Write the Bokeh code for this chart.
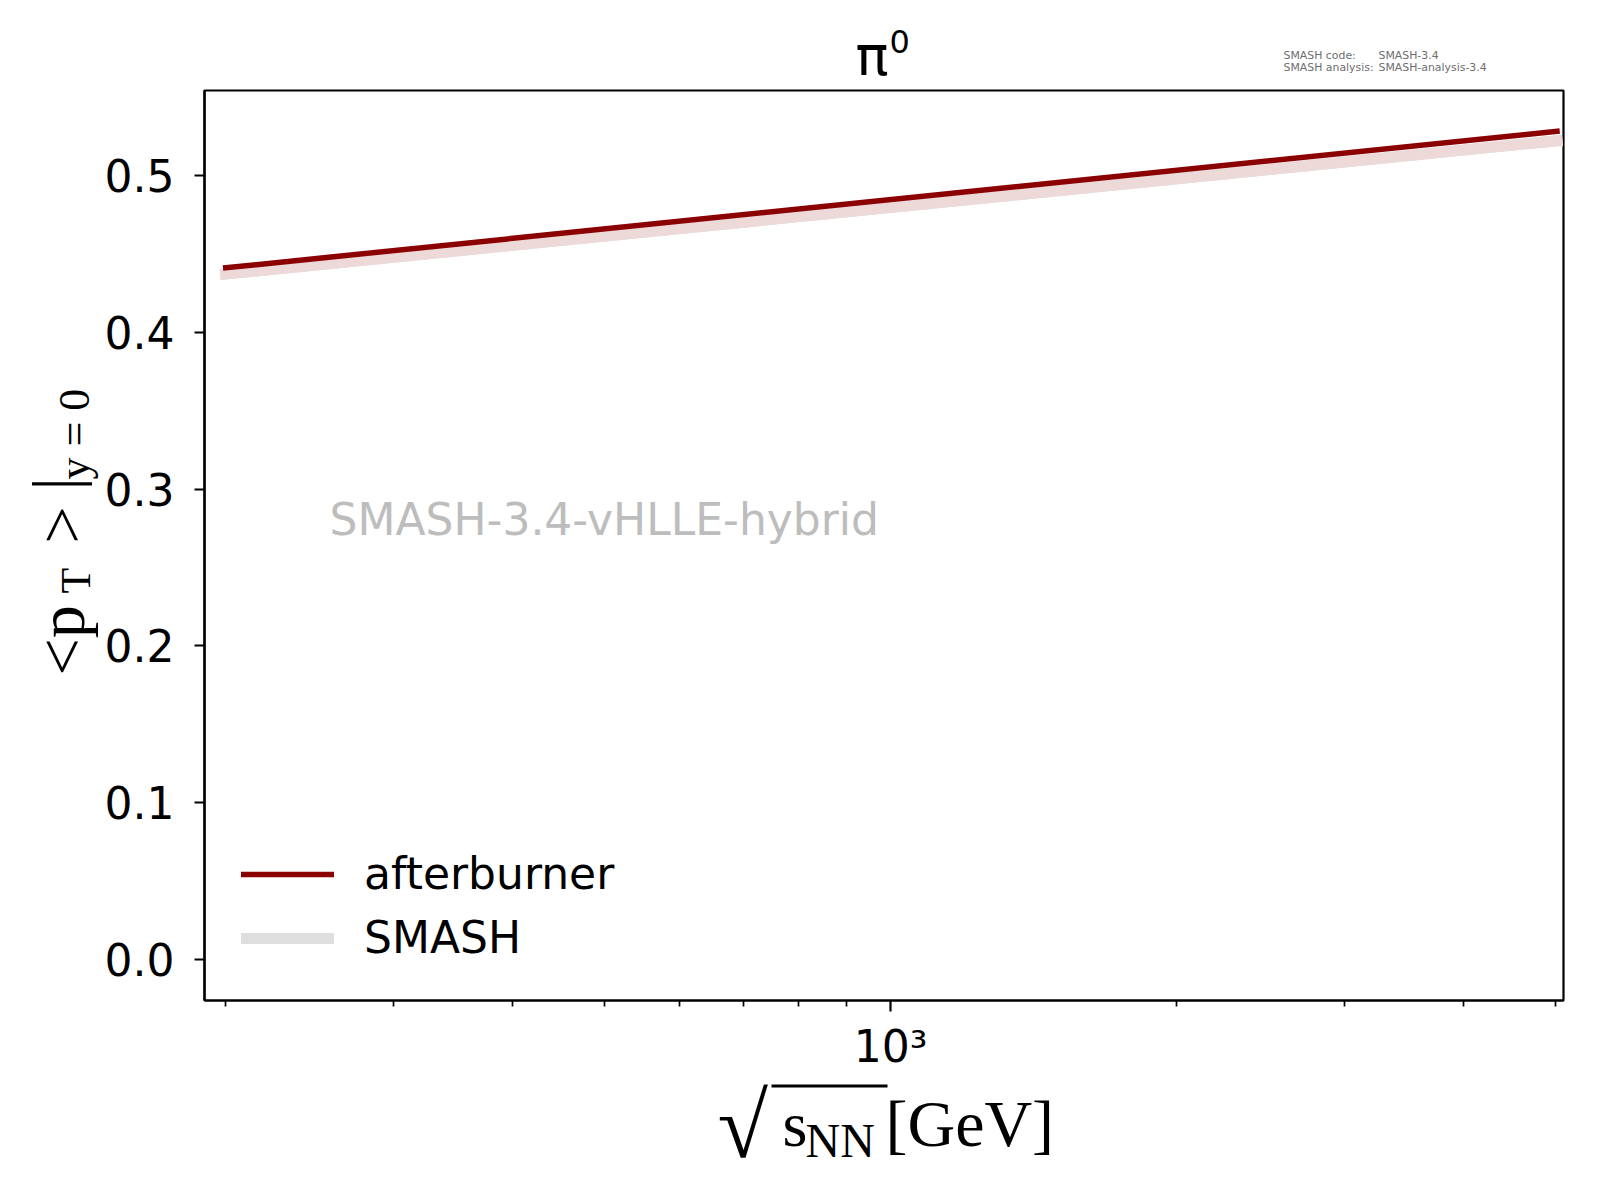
from math import pi
from bokeh.plotting import figure
from bokeh.layouts import column, row
from bokeh.models import (Range1d, FixedTicker, Label, Legend, LegendItem,
                          BoxAnnotation, NumeralTickFormatter)
from bokeh.embed import file_html
from bokeh.resources import INLINE

# ---------------- data ----------------
sqrt_s_nn = [200, 5020]                       # GeV
mean_pt_afterburner = [0.441, 0.528]
mean_pt_smash = [0.437, 0.522]
y_ticks = [0.0, 0.1, 0.2, 0.3, 0.4, 0.5]
x_major_ticks = [1000]
x_major_labels = ["10³"]
x_minor_ticks = [200, 300, 400, 500, 600, 700, 800, 900, 2000, 3000, 4000, 5000]
series_labels = ["afterburner", "SMASH"]
title_particle = "π"
title_charge = "0"
watermark = "SMASH-3.4-vHLLE-hybrid"
version_keys = ["SMASH code:", "SMASH analysis:"]
version_vals = ["SMASH-3.4", "SMASH-analysis-3.4"]

# ---------------- layout constants (page pixels) ----------------
TOTAL_W, TOTAL_H = 1584, 1184
TOP_H = 88
LEFT_W = 101
MAIN_H = 986
BOT_H = TOTAL_H - TOP_H - MAIN_H
FRAME_L, FRAME_T, FRAME_R, FRAME_B = 204, 90, 1563, 1001
BASE_SHIFT = 0.38      # empirical alphabetic-baseline correction (em)
ROT_SHIFT = 72         # empirical along-text correction for rotated labels (px)
SERIF = "Liberation Serif"


def strip(w, h):
    f = figure(width=w, height=h, x_range=Range1d(0, w), y_range=Range1d(0, h),
               output_backend="svg", toolbar_location=None, title=None,
               x_axis_location=None, y_axis_location=None, min_border=0)
    f.grid.visible = False
    f.outline_line_color = None
    f.background_fill_color = "white"
    f.border_fill_color = "white"
    return f


def lab(fig, left, bottom, text, X, Y, size, font="DejaVu Sans", color="black",
        angle=0.0):
    """Place text with baseline-start at page pixel (X, Y) on figure whose
    frame has page-left `left` and page-bottom `bottom`."""
    if angle == 0.0:
        x = X - left
        y = bottom - Y + BASE_SHIFT * size
    else:
        x = X - left - BASE_SHIFT * size
        y = bottom - (Y + ROT_SHIFT)
    fig.add_layout(Label(x=x, y=y, x_units="screen", y_units="screen",
                         text=text, text_font=font, text_font_size=f"{size}px",
                         text_color=color, angle=angle, text_align="left",
                         text_baseline="alphabetic"))


# ---------------- main plot ----------------
p = figure(width=TOTAL_W - LEFT_W, height=MAIN_H, x_axis_type="log",
           x_range=Range1d(190, 5100), y_range=Range1d(-0.026, 0.554),
           output_backend="svg", toolbar_location=None, title=None,
           min_border_left=FRAME_L - LEFT_W, min_border_right=TOTAL_W - FRAME_R,
           min_border_top=FRAME_T - TOP_H, min_border_bottom=TOP_H + MAIN_H - FRAME_B)
p.xgrid.visible = False
p.ygrid.visible = False
p.outline_line_color = "black"
p.outline_line_width = 2.2
p.outline_line_alpha = 1.0
p.background_fill_color = "white"
p.border_fill_color = "white"

for ax in (p.xaxis[0], p.yaxis[0]):
    ax.axis_line_width = 2.2
    ax.axis_line_color = "black"
    ax.major_tick_line_width = 2.2
    ax.major_tick_line_color = "black"
    ax.major_tick_in = 0
    ax.minor_tick_in = 0
    ax.major_label_text_font = "DejaVu Sans"
    ax.major_label_text_font_size = "44px"
    ax.major_label_text_color = "black"

p.xaxis.ticker = FixedTicker(ticks=x_major_ticks, minor_ticks=x_minor_ticks)
p.xaxis.major_label_overrides = dict(zip(x_major_ticks, x_major_labels))
p.xaxis.major_tick_out = 11
p.xaxis.minor_tick_out = 6
p.xaxis.minor_tick_line_width = 1.7
p.xaxis.minor_tick_line_color = "black"
p.xaxis.major_label_standoff = 9

p.yaxis.ticker = FixedTicker(ticks=y_ticks)
p.yaxis.formatter = NumeralTickFormatter(format="0.0")
p.yaxis.major_tick_out = 10
p.yaxis.minor_tick_line_color = None
p.yaxis.major_label_standoff = 20

# legend proxy for SMASH (grey), hidden below the opaque pink band
r_smash_key = p.line(sqrt_s_nn, mean_pt_smash, line_color="#dedede",
                     line_width=11, line_cap="square")
r_smash = p.line(sqrt_s_nn, mean_pt_smash, line_color="#eed9d9",
                 line_width=11, line_cap="square")
r_ab = p.line(sqrt_s_nn, mean_pt_afterburner, line_color="#8b0000",
              line_width=5.5, line_cap="square")

legend = Legend(items=[LegendItem(label=series_labels[0], renderers=[r_ab]),
                       LegendItem(label=series_labels[1], renderers=[r_smash_key])],
                location=(37, 37), border_line_color=None, background_fill_alpha=0,
                glyph_width=93, glyph_height=44, label_height=44, label_standoff=30,
                spacing=13, padding=10, margin=0,
                label_text_font="DejaVu Sans", label_text_font_size="44px",
                label_text_color="black")
p.add_layout(legend)

lab(p, FRAME_L, FRAME_B, watermark, 329, 537, 44, color="#bdbdbd")

# ---------------- top strip: title + version info ----------------
ft = strip(TOTAL_W, TOP_H)
lab(ft, 0, TOP_H, title_particle, 855, 76, 55)
lab(ft, 0, TOP_H, title_charge, 889, 53, 32)
for i, (k, v) in enumerate(zip(version_keys, version_vals)):
    lab(ft, 0, TOP_H, k, 1283, 59 + 12 * i, 10.9, color="#6e6e6e")
    lab(ft, 0, TOP_H, v, 1378, 59 + 12 * i, 10.9, color="#6e6e6e")

# ---------------- left strip: y-axis label  < p_T > |_{y=0} ----------------
fl = strip(LEFT_W, MAIN_H)
LB = TOP_H + MAIN_H
lab(fl, 0, LB, "<p", 86, 677, 66, font=SERIF, angle=pi / 2)
lab(fl, 0, LB, "T", 91, 595, 42, font=SERIF, angle=pi / 2)
lab(fl, 0, LB, ">", 86, 545, 66, font=SERIF, angle=pi / 2)
lab(fl, 0, LB, "|", 80, 492, 66, font=SERIF, angle=pi / 2)
lab(fl, 0, LB, "y = 0", 91, 481, 44, font=SERIF, angle=pi / 2)

# ---------------- bottom strip: x-axis label  sqrt(s_NN) [GeV] ----------------
fb = strip(TOTAL_W, BOT_H)
lab(fb, 0, TOTAL_H, "√", 717, 1160, 92, font=SERIF)
fb.add_layout(BoxAnnotation(left=771, right=887,
                            top=TOTAL_H - 1084, bottom=TOTAL_H - 1087,
                            left_units="screen", right_units="screen",
                            top_units="screen", bottom_units="screen",
                            fill_color="black", fill_alpha=1.0, line_color=None))
lab(fb, 0, TOTAL_H, "s", 782, 1148, 64, font=SERIF)
lab(fb, 0, TOTAL_H, "NN", 805, 1158, 48, font=SERIF)
lab(fb, 0, TOTAL_H, "[GeV]", 885, 1148, 66, font=SERIF)

layout = column(ft, row(fl, p, spacing=0), fb, spacing=0)
open("out.html", "w").write(file_html(layout, INLINE))
